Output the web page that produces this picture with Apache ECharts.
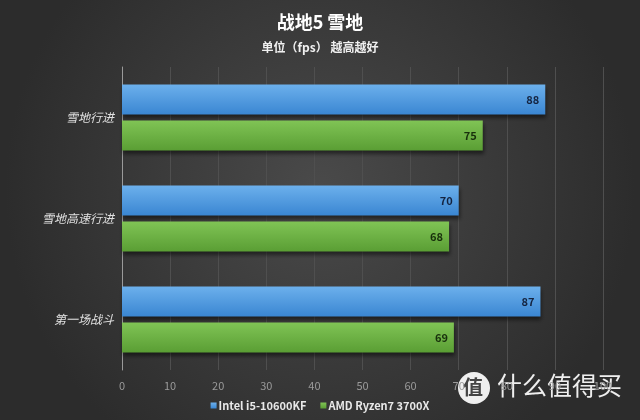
<!DOCTYPE html>
<html><head><meta charset="utf-8">
<script src="https://cdn.jsdelivr.net/npm/echarts@6/dist/echarts.min.js"></script>
<style>html,body{margin:0;padding:0;background:#333;}#c{width:640px;height:420px;}</style>
</head><body><div id="c"></div>
<script>
const categories = ['雪地行进', '雪地高速行进', '第一场战斗'];
const intelValues = [88, 70, 87];
const amdValues = [75, 68, 69];
const seriesNames = ['Intel i5-10600KF', 'AMD Ryzen7 3700X'];
const titleText = '战地5 雪地';
const subtitleText = '单位（fps） 越高越好';

const chart = echarts.init(document.getElementById('c'), null, {renderer: 'canvas'});
const font = '"Noto Sans CJK SC", "Noto Sans", sans-serif';
chart.setOption({
  backgroundColor: {
    type: 'radial', x: 0.5, y: 0.45, r: 0.75,
    colorStops: [{offset: 0, color: '#4a4a4a'}, {offset: 1, color: '#2c2c2c'}]
  },
  title: [
    {text: titleText, left: 'center', top: 8, textStyle: {color: '#ffffff', fontSize: 18, fontWeight: 'bold', fontFamily: font}},
    {text: subtitleText, left: 'center', top: 36, textStyle: {color: '#f0f0f0', fontSize: 12, fontWeight: 'bold', fontFamily: font}}
  ],
  legend: {
    bottom: 4, left: 'center', itemWidth: 6, itemHeight: 6, itemGap: 14,
    icon: 'rect',
    textStyle: {color: '#e8e8e8', fontSize: 11, fontWeight: 'bold', fontFamily: font, padding: [0, 0, 0, -3]},
    data: seriesNames
  },
  grid: {left: 122, right: 37, top: 67, bottom: 50, containLabel: false},
  xAxis: {
    type: 'value', min: 0, max: 100, interval: 10,
    axisLine: {show: false}, axisTick: {show: false},
    axisLabel: {color: '#9a9a9a', fontSize: 11, margin: 10, fontFamily: font},
    splitLine: {lineStyle: {color: '#4f4f4f', width: 1}}
  },
  yAxis: {
    type: 'category', data: categories, inverse: true,
    axisLine: {show: true, lineStyle: {color: '#9a9a9a', width: 1}},
    axisTick: {show: false},
    axisLabel: {color: '#e0e0e0', fontSize: 12, fontStyle: 'italic', margin: 8, fontFamily: font}
  },
  series: [
    {
      name: seriesNames[0], type: 'bar', data: intelValues,
      barWidth: 30, barGap: '20%',
      itemStyle: {
        color: {type: 'linear', x: 0, y: 0, x2: 0, y2: 1,
          colorStops: [{offset: 0, color: '#6cb0ec'}, {offset: 1, color: '#3a86d2'}]},
        shadowColor: 'rgba(0,0,0,0.5)', shadowBlur: 4, shadowOffsetY: 3, shadowOffsetX: 1
      },
      label: {show: true, position: 'insideRight', distance: 6, color: '#14233f', fontSize: 11, fontWeight: 'bold', fontFamily: font}
    },
    {
      name: seriesNames[1], type: 'bar', data: amdValues,
      barWidth: 30,
      itemStyle: {
        color: {type: 'linear', x: 0, y: 0, x2: 0, y2: 1,
          colorStops: [{offset: 0, color: '#80c455'}, {offset: 1, color: '#5a9e34'}]},
        shadowColor: 'rgba(0,0,0,0.5)', shadowBlur: 4, shadowOffsetY: 3, shadowOffsetX: 1
      },
      label: {show: true, position: 'insideRight', distance: 6, color: '#18300c', fontSize: 11, fontWeight: 'bold', fontFamily: font}
    }
  ],
  graphic: [
    {type: 'circle', left: 458, top: 372, shape: {r: 16}, style: {fill: 'rgba(255,255,255,0.92)'}},
    {type: 'text', left: 463, top: 377, style: {text: '值', fill: '#444', font: 'bold 20px "Noto Sans CJK SC"'}},
    {type: 'text', left: 497, top: 373, style: {text: '什么值得买', fill: 'rgba(255,255,255,0.92)', font: '25px "Noto Sans CJK SC"'}}
  ]
});
</script>
</body></html>
